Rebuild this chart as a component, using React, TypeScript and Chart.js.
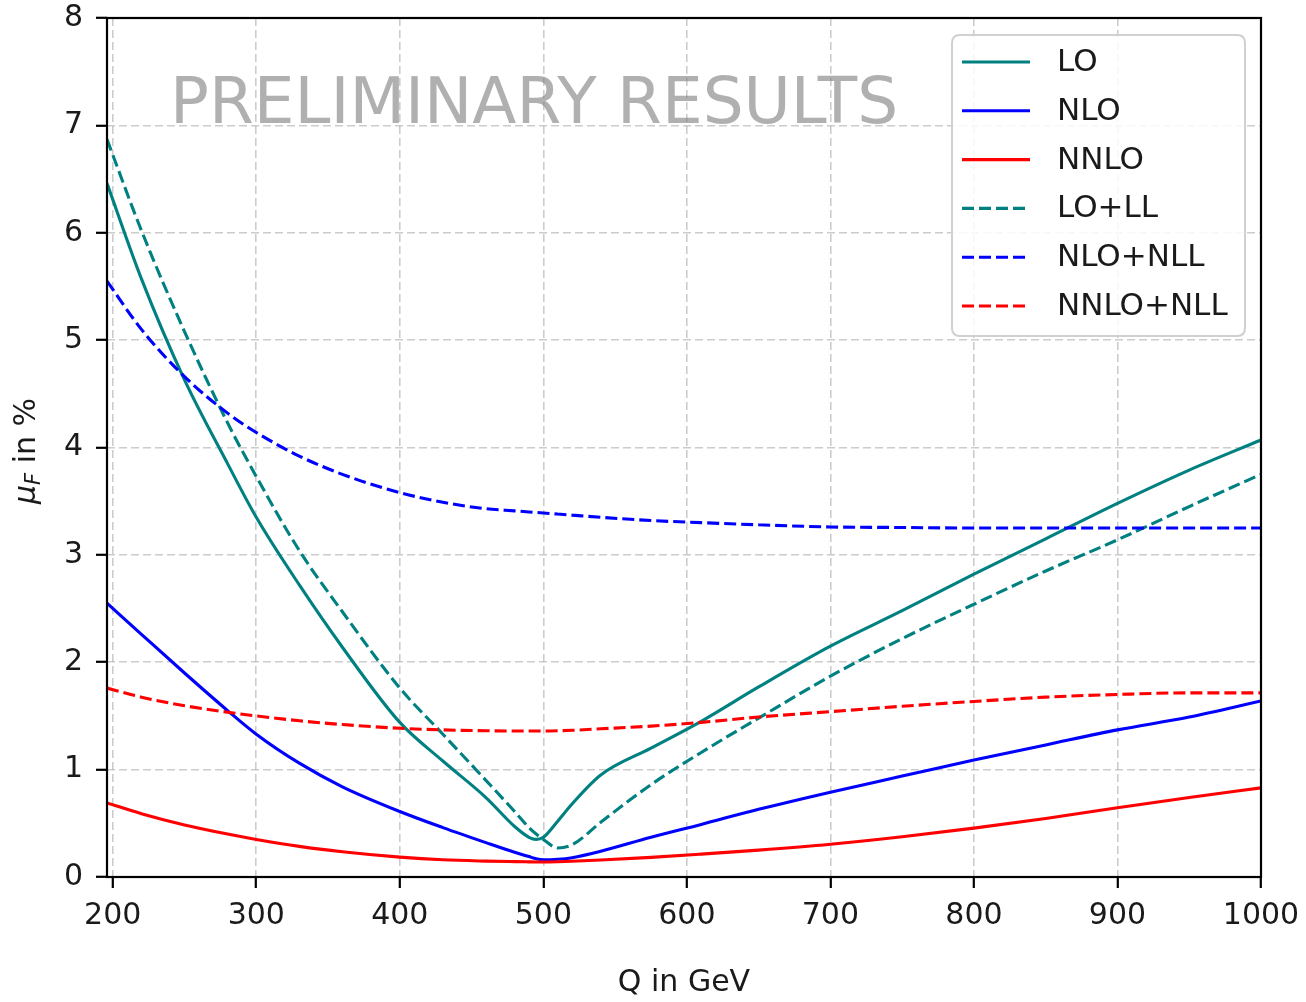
import React, { useEffect, useRef } from "react";
import { Chart, registerables } from "chart.js";

Chart.register(...registerables);

// Q values (GeV) at which the curves are sampled
const qValues = [196, 220, 250, 280, 300, 330, 360, 400, 430, 460, 480, 490, 495, 500, 510, 520, 540, 575, 610, 650, 700, 750, 800, 850, 900, 950, 1000];

// mu_F uncertainty in %
const loValues = [6.46, 5.57, 4.63, 3.85, 3.35, 2.72, 2.14, 1.44, 1.08, 0.74, 0.47, 0.37, 0.35, 0.37, 0.52, 0.68, 0.95, 1.2, 1.45, 1.77, 2.15, 2.48, 2.82, 3.15, 3.48, 3.79, 4.07];
const nloValues = [2.55, 2.26, 1.9, 1.55, 1.33, 1.06, 0.84, 0.61, 0.46, 0.32, 0.23, 0.19, 0.17, 0.16, 0.165, 0.18, 0.24, 0.37, 0.49, 0.63, 0.79, 0.94, 1.09, 1.23, 1.37, 1.49, 1.64];
const nnloValues = [0.69, 0.59, 0.485, 0.4, 0.35, 0.285, 0.235, 0.185, 0.16, 0.148, 0.143, 0.141, 0.14, 0.14, 0.142, 0.146, 0.158, 0.183, 0.213, 0.25, 0.305, 0.375, 0.455, 0.545, 0.645, 0.74, 0.83];
const loLLValues = [6.87, 6.02, 5.08, 4.23, 3.73, 3.04, 2.47, 1.76, 1.33, 0.9, 0.61, 0.46, 0.4, 0.35, 0.27, 0.3, 0.51, 0.86, 1.16, 1.48, 1.87, 2.22, 2.54, 2.85, 3.14, 3.45, 3.75];
const nloNLLValues = [5.55, 5.1, 4.66, 4.32, 4.14, 3.92, 3.75, 3.58, 3.49, 3.43, 3.41, 3.4, 3.395, 3.39, 3.38, 3.37, 3.35, 3.32, 3.3, 3.28, 3.26, 3.255, 3.25, 3.25, 3.25, 3.25, 3.25];
const nnloNLLValues = [1.76, 1.675, 1.595, 1.535, 1.5, 1.455, 1.42, 1.385, 1.37, 1.362, 1.36, 1.36, 1.36, 1.36, 1.362, 1.366, 1.38, 1.405, 1.44, 1.49, 1.54, 1.59, 1.635, 1.675, 1.7, 1.715, 1.715];

const seriesLabels = ["LO", "NLO", "NNLO", "LO+LL", "NLO+NLL", "NNLO+NLL"];
const xTickValues = [200, 300, 400, 500, 600, 700, 800, 900, 1000];
const yTickValues = [0, 1, 2, 3, 4, 5, 6, 7, 8];

const watermarkText = "PRELIMINARY RESULTS";
const xTitle = "Q in GeV";

const FONT = "'DejaVu Sans', sans-serif";
const TEAL = "#008080";
const BLUE = "#0000ff";
const RED = "#ff0000";
const LW = 3.1;
const DASH = [12, 5];

export default function App() {
  const ref = useRef<HTMLCanvasElement | null>(null);

  useEffect(() => {
    if (!ref.current) return;
    const mk = (ys: number[]) => qValues.map((x, i) => ({ x, y: ys[i] }));
    const styles = [
      { c: TEAL, d: [] as number[] },
      { c: BLUE, d: [] as number[] },
      { c: RED, d: [] as number[] },
      { c: TEAL, d: DASH },
      { c: BLUE, d: DASH },
      { c: RED, d: DASH },
    ];
    const allValues = [loValues, nloValues, nnloValues, loLLValues, nloNLLValues, nnloNLLValues];
    const datasets = allValues.map((vals, i) => ({
      label: seriesLabels[i],
      data: mk(vals),
      borderColor: styles[i].c,
      backgroundColor: styles[i].c,
      borderWidth: LW,
      borderDash: styles[i].d,
      pointRadius: 0,
      fill: false,
      cubicInterpolationMode: "monotone" as const,
      order: 6 - i,
    }));

    const decor = {
      id: "decor",
      beforeDatasetsDraw(chart: any) {
        const ctx = chart.ctx;
        ctx.save();
        ctx.font = `64.5px ${FONT}`;
        ctx.fillStyle = "rgba(128,128,128,0.62)";
        ctx.textBaseline = "alphabetic";
        ctx.textAlign = "left";
        ctx.fillText(watermarkText, 170, 123);
        ctx.restore();
      },
      afterDraw(chart: any) {
        const ctx = chart.ctx;
        const a = chart.chartArea;
        ctx.save();
        // frame
        ctx.strokeStyle = "#000";
        ctx.lineWidth = 2.2;
        ctx.setLineDash([]);
        ctx.strokeRect(a.left, a.top, a.right - a.left, a.bottom - a.top);

        // x title
        ctx.fillStyle = "#1a1a1a";
        ctx.font = `30px ${FONT}`;
        ctx.textAlign = "center";
        ctx.textBaseline = "alphabetic";
        ctx.fillText(xTitle, (a.left + a.right) / 2, 991);

        // y title: mu_F in %
        ctx.save();
        ctx.translate(35, 451);
        ctx.rotate(-Math.PI / 2);
        const parts = [
          { t: "μ", f: `italic 30px ${FONT}`, dy: 0 },
          { t: "F", f: `italic 21px ${FONT}`, dy: 5 },
          { t: " in %", f: `30px ${FONT}`, dy: 0 },
        ];
        let total = 0;
        const widths = parts.map((p) => {
          ctx.font = p.f;
          const w = ctx.measureText(p.t).width;
          total += w;
          return w;
        });
        let x = -total / 2;
        ctx.textAlign = "left";
        parts.forEach((p, i) => {
          ctx.font = p.f;
          ctx.fillText(p.t, x, p.dy);
          x += widths[i];
        });
        ctx.restore();

        // legend
        const lx = 952, ly = 35, lw = 293, lh = 301, r = 8;
        ctx.beginPath();
        ctx.moveTo(lx + r, ly);
        ctx.lineTo(lx + lw - r, ly);
        ctx.quadraticCurveTo(lx + lw, ly, lx + lw, ly + r);
        ctx.lineTo(lx + lw, ly + lh - r);
        ctx.quadraticCurveTo(lx + lw, ly + lh, lx + lw - r, ly + lh);
        ctx.lineTo(lx + r, ly + lh);
        ctx.quadraticCurveTo(lx, ly + lh, lx, ly + lh - r);
        ctx.lineTo(lx, ly + r);
        ctx.quadraticCurveTo(lx, ly, lx + r, ly);
        ctx.closePath();
        ctx.fillStyle = "rgba(255,255,255,0.85)";
        ctx.fill();
        ctx.strokeStyle = "#d0d0d0";
        ctx.lineWidth = 2;
        ctx.stroke();

        chart.data.datasets.forEach((ds: any, i: number) => {
          const cy = 62 + i * 48.8;
          ctx.beginPath();
          ctx.setLineDash(ds.borderDash || []);
          ctx.strokeStyle = ds.borderColor;
          ctx.lineWidth = LW;
          ctx.moveTo(962, cy);
          ctx.lineTo(1030, cy);
          ctx.stroke();
          ctx.setLineDash([]);
          ctx.fillStyle = "#1a1a1a";
          ctx.font = `31px ${FONT}`;
          ctx.textAlign = "left";
          ctx.textBaseline = "middle";
          ctx.fillText(ds.label, 1057, cy + 1);
        });
        ctx.restore();
      },
    };

    const gridColor = "rgba(176,176,176,0.65)";
    const chart = new Chart(ref.current, {
      type: "line",
      data: { datasets },
      options: {
        responsive: false,
        devicePixelRatio: 1,
        animation: false,
        layout: { padding: { left: 0, top: 18, right: 45, bottom: 0 } },
        plugins: {
          legend: { display: false },
          tooltip: { enabled: false },
        },
        scales: {
          x: {
            type: "linear",
            min: 196,
            max: 1000,
            afterBuildTicks: (s: any) => {
              s.ticks = xTickValues.map((v) => ({ value: v }));
            },
            afterFit: (s: any) => {
              s.height = 125;
              s.paddingLeft = 0;
              s.paddingRight = 0;
            },
            grid: {
              color: gridColor,
              lineWidth: 1.6,
              tickColor: "#000",
              tickWidth: 2.2,
              tickLength: 11,
              tickBorderDash: [],
            },
            border: { display: false, dash: [8, 4] },
            ticks: {
              color: "#1a1a1a",
              font: { family: FONT, size: 30 },
              padding: 10,
              maxRotation: 0,
              autoSkip: false,
              callback: (v: any) => String(v),
            },
          },
          y: {
            type: "linear",
            min: 0,
            max: 8,
            afterBuildTicks: (s: any) => {
              s.ticks = yTickValues.map((v) => ({ value: v }));
            },
            afterFit: (s: any) => {
              s.width = 107;
              s.paddingTop = 0;
              s.paddingBottom = 0;
            },
            grid: {
              color: gridColor,
              lineWidth: 1.6,
              tickColor: "#000",
              tickWidth: 2.2,
              tickLength: 11,
              tickBorderDash: [],
            },
            border: { display: false, dash: [8, 4] },
            ticks: {
              color: "#1a1a1a",
              font: { family: FONT, size: 30 },
              padding: 13,
              autoSkip: false,
              callback: (v: any) => String(v),
            },
          },
        },
      },
      plugins: [decor],
    });
    return () => chart.destroy();
  }, []);

  return (
    <div style={{ position: "absolute", left: 0, top: 0, width: 1306, height: 1002, background: "#fff" }}>
      <canvas ref={ref} width={1306} height={1002} style={{ display: "block", width: 1306, height: 1002 }} />
    </div>
  );
}
